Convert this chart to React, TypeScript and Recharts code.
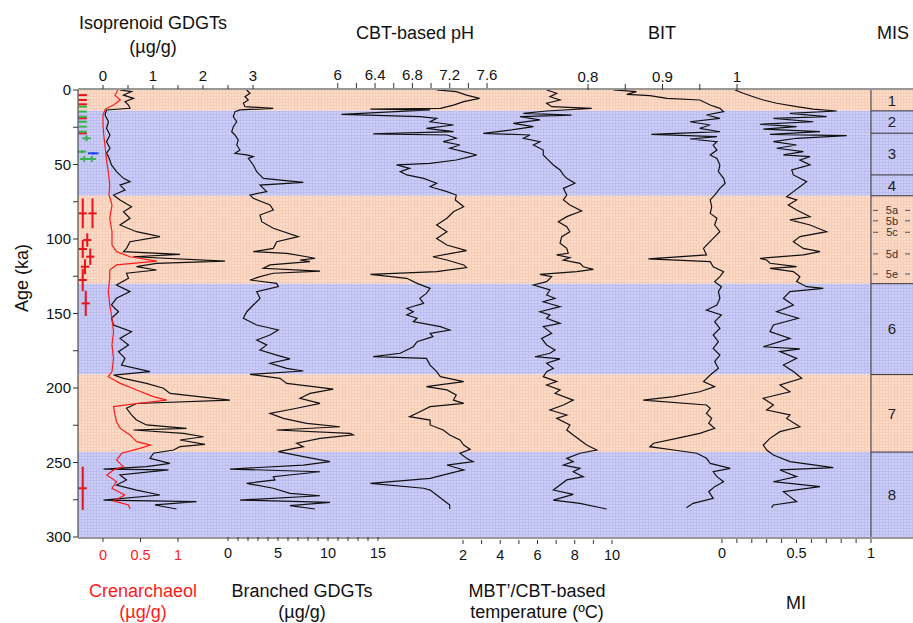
import React from 'react';
import { ComposedChart, Line, XAxis, YAxis, ReferenceArea, ReferenceLine } from 'recharts';

const FONT = '"Liberation Sans", Arial, Helvetica, sans-serif';

// ---------- Age axis ----------
const ageMajor = [0, 50, 100, 150, 200, 250, 300];
const ageMinor = [25, 75, 125, 175, 225, 275];

// ---------- MIS stages ----------
const misBounds = [0, 14, 29, 57, 71, 130, 191, 243, 300];
const misNames = ['1', '2', '3', '4', '', '6', '7', '8'];
const misWarm = [true, false, false, false, true, false, true, false];
const subStageNames = ['5a', '5b', '5c', '5d', '5e'];
const subStageAges = [80.8, 87.8, 95.5, 110, 123.5];

// ---------- Axis ticks ----------
const isoMajor = [0, 1, 2, 3];
const isoMinor = [0.5, 1.5, 2.5];
const phMajor = [6, 6.4, 6.8, 7.2, 7.6];
const phMinor = [6.2, 6.6, 7.0, 7.4];
const bitMajor = [0.8, 0.9, 1];
const bitMinor = [0.85, 0.95];
const crenMajor = [0, 0.5, 1];
const crenMinor: number[] = [];
const brMajor = [0, 5, 10, 15];
const brMinor = [1, 2, 3, 4, 6, 7, 8, 9, 11, 12, 13, 14];
const tMajor = [2, 4, 6, 8, 10];
const tMinor = [3, 5, 7, 9];
const miMajor = [0, 0.5, 1];
const miMinor = [0.1, 0.2, 0.3, 0.4, 0.6, 0.7, 0.8, 0.9];

// ---------- Series: [age (ka), value] ----------
const isoprenoidGDGTs: [number, number][] = [
  [0, 0.34], [1.1, 0.57], [3.4, 0.41], [5.6, 0.61], [7.8, 0.44], [10.1, 0.51], [12.3, 0.54], [13.4, 0.07],
  [16.8, 0.04], [21.3, 0.11], [25.7, 0.07], [30.2, 0.14], [34.7, 0.07], [39.1, 0.14], [42.5, 0.07], [44.7, 0.11],
  [50.3, 0.17], [54.8, 0.27], [59.3, 0.41], [61.5, 0.54], [63.8, 0.34], [67.1, 0.44], [70.5, 0.21], [73.8, 0.34],
  [78.3, 0.57], [81.7, 0.41], [86.1, 0.54], [90.6, 0.34], [95.1, 0.67], [98.4, 1.14], [101.8, 0.54], [106.3, 0.47],
  [108.5, 0.41], [110.3, 1.54], [111.9, 0.61], [114.8, 2.44], [116.3, 1.07], [118.6, 0.67], [120.8, 1.07], [123.0, 0.47],
  [126.4, 0.51], [130.9, 0.27], [135.3, 0.54], [139.8, 0.27], [144.3, 0.17], [148.8, 0.31], [153.2, 0.17], [157.7, 0.21],
  [162.2, 0.57], [166.7, 0.34], [171.1, 0.51], [175.6, 0.31], [180.1, 0.44], [184.6, 0.37], [189.0, 0.94], [191.3, 0.21],
  [193.5, 0.41], [196.9, 0.87], [200.2, 1.21], [203.6, 1.34], [208.1, 2.54], [210.4, 0.67], [213.6, 0.47], [218.1, 0.57],
  [221.5, 0.67], [224.8, 0.87], [227.1, 1.67], [228.2, 0.61], [230.4, 1.61], [232.7, 2.01], [234.9, 1.54], [237.8, 2.04],
  [239.4, 1.54], [241.6, 1.41], [243.8, 1.01], [247.2, 0.94], [250.6, 1.34], [252.8, 0.87], [254.4, 0.01], [255.0, 1.31],
  [258.4, 0.34], [261.7, 0.47], [265.1, 0.27], [268.5, 0.67], [271.8, 1.14], [275.2, 0.01], [276.3, 1.87], [278.5, 1.04],
  [281.2, 1.47],
];

const crenarchaeol: [number, number][] = [
  [0, 0.2], [3.4, 0.16], [6.7, 0.23], [10.1, 0.14], [12.8, 0.03], [16.8, 0.0], [23.5, 0.0], [30.2, 0.01],
  [39.1, 0.03], [48.1, 0.05], [54.8, 0.07], [63.8, 0.09], [70.5, 0.08], [77.2, 0.12], [86.1, 0.09], [95.1, 0.12],
  [104.0, 0.12], [108.5, 0.18], [111.9, 0.36], [114.8, 0.72], [117.4, 0.18], [120.8, 0.09], [126.4, 0.09], [135.3, 0.07],
  [144.3, 0.09], [153.2, 0.12], [162.2, 0.14], [171.1, 0.12], [180.1, 0.14], [189.0, 0.12], [192.4, 0.07], [196.9, 0.23],
  [201.3, 0.45], [205.8, 0.67], [208.1, 0.85], [210.4, 0.45], [212.5, 0.14], [218.1, 0.16], [222.6, 0.18], [227.1, 0.23],
  [231.5, 0.36], [236.0, 0.45], [238.3, 0.63], [240.5, 0.49], [243.8, 0.25], [248.3, 0.18], [252.8, 0.27], [255.0, 0.14],
  [258.4, 0.05], [262.8, 0.18], [267.3, 0.12], [271.8, 0.29], [275.8, 0.14], [278.5, 0.34], [281.2, 0.36],
];

const branchedGDGTs: [number, number][] = [
  [0, 1.87], [2.2, 2.2], [4.5, 1.7], [6.7, 2.03], [8.9, 1.53], [11.2, 1.7], [12.3, 4.53], [13.4, 1.2],
  [14.5, 0.7], [17.9, 0.53], [21.3, 0.87], [24.6, 0.53], [28.0, 0.37], [30.2, 0.7], [33.6, 1.03], [36.9, 0.87],
  [40.3, 1.2], [42.5, 0.7], [43.6, 1.87], [44.7, 2.53], [45.9, 2.03], [50.3, 2.53], [54.8, 2.87], [59.3, 3.53],
  [62.0, 7.53], [63.8, 3.2], [68.2, 3.87], [70.5, 2.2], [72.7, 2.53], [77.2, 4.2], [80.5, 4.53], [83.9, 3.2],
  [88.4, 3.37], [92.8, 4.53], [98.4, 7.03], [101.8, 4.87], [106.3, 4.53], [108.5, 2.53], [109.6, 5.87], [111.9, 7.87],
  [113.0, 8.7], [114.1, 7.2], [115.2, 8.2], [117.4, 4.2], [119.7, 3.53], [121.5, 9.2], [123.0, 4.53], [125.3, 3.2],
  [127.5, 2.2], [129.8, 4.87], [132.0, 5.03], [135.3, 2.87], [139.8, 3.2], [144.3, 2.53], [148.8, 1.87], [153.2, 1.53],
  [157.7, 2.87], [161.1, 5.03], [164.4, 4.2], [167.8, 2.87], [171.1, 3.87], [174.5, 3.2], [177.9, 4.87], [180.5, 6.2],
  [183.4, 4.2], [186.8, 5.87], [188.6, 7.53], [190.8, 2.2], [193.5, 5.2], [196.9, 5.87], [199.1, 8.53], [200.7, 10.53],
  [203.6, 8.2], [206.9, 7.2], [210.3, 9.2], [213.6, 6.87], [217.0, 4.2], [220.4, 5.53], [223.7, 7.87], [226.0, 11.2],
  [228.2, 4.87], [230.4, 12.2], [231.5, 12.53], [233.8, 9.2], [237.1, 6.87], [239.4, 7.53], [242.7, 5.03], [246.1, 7.53],
  [249.4, 10.2], [251.7, 7.53], [254.4, 0.2], [256.2, 9.2], [259.5, 4.53], [261.7, 4.7], [264.0, 1.87], [267.3, 4.53],
  [270.7, 6.2], [272.3, 9.2], [275.2, 1.2], [276.8, 10.2], [279.0, 6.2], [281.2, 8.7],
];

const cbtPH: [number, number][] = [
  [0, 7.06], [1.1, 7.27], [3.4, 7.38], [5.6, 7.52], [7.8, 7.35], [10.1, 7.24], [12.3, 7.1], [12.8, 6.35],
  [13.4, 6.99], [16.3, 6.04], [17.9, 6.88], [19.0, 7.06], [21.3, 6.99], [23.5, 7.24], [25.7, 6.95], [28.0, 7.24],
  [29.5, 6.38], [30.2, 7.17], [32.4, 7.27], [34.7, 7.13], [36.9, 7.31], [39.1, 7.2], [41.4, 7.35], [43.6, 7.49],
  [44.7, 7.42], [47.0, 7.27], [49.2, 6.99], [50.3, 6.63], [52.6, 6.77], [54.8, 6.67], [57.0, 6.74], [59.3, 6.92],
  [62.6, 7.06], [64.9, 6.99], [68.2, 7.17], [70.5, 7.27], [73.8, 7.26], [78.3, 7.35], [81.7, 7.24], [86.1, 7.17],
  [90.6, 7.06], [95.1, 7.17], [99.6, 7.06], [104.0, 7.17], [107.8, 7.38], [111.9, 7.02], [114.1, 7.17], [117.4, 7.35],
  [119.2, 7.38], [121.9, 7.06], [123.7, 6.35], [126.4, 6.74], [129.8, 6.85], [133.1, 6.99], [136.5, 6.95], [139.8, 6.88],
  [143.2, 6.92], [146.5, 6.74], [148.8, 6.81], [151.0, 6.74], [153.2, 6.85], [155.5, 6.81], [158.8, 7.1], [161.1, 7.2],
  [163.3, 6.99], [165.5, 7.02], [168.9, 6.85], [172.3, 6.81], [174.5, 6.74], [176.7, 6.67], [179.0, 6.38], [180.1, 6.95],
  [184.6, 6.99], [189.0, 7.06], [192.4, 7.1], [195.7, 7.35], [199.1, 6.95], [201.3, 7.17], [204.7, 7.27], [208.1, 7.24],
  [210.3, 7.35], [212.5, 6.99], [215.9, 6.88], [219.2, 6.77], [221.5, 6.99], [224.8, 6.99], [228.2, 7.13], [231.5, 7.2],
  [234.9, 7.31], [238.3, 7.35], [241.2, 7.42], [243.8, 7.31], [247.2, 7.38], [249.4, 7.45], [251.7, 7.17], [255.0, 7.35],
  [257.3, 7.2], [260.6, 6.99], [264.0, 6.35], [267.3, 6.92], [268.5, 6.99], [271.8, 7.06], [275.2, 7.13], [278.5, 7.2],
  [281.2, 7.2],
];

const mbtTemperature: [number, number][] = [
  [0, 6.49], [2.2, 7.03], [4.5, 6.67], [6.7, 7.21], [8.9, 6.49], [11.2, 6.76], [12.3, 8.91], [14.1, 6.49],
  [15.7, 5.24], [16.8, 7.83], [17.9, 5.06], [20.1, 6.13], [22.4, 4.7], [24.6, 5.78], [26.8, 4.61], [29.1, 3.09],
  [30.2, 5.6], [32.4, 5.24], [34.7, 6.13], [36.9, 5.78], [40.3, 6.31], [43.6, 6.31], [45.9, 6.49], [50.3, 6.85],
  [53.7, 7.21], [57.0, 7.39], [59.3, 7.57], [62.6, 8.01], [66.0, 7.39], [70.5, 7.57], [73.8, 7.39], [77.2, 7.74],
  [81.2, 8.37], [85.0, 7.57], [88.4, 7.12], [91.7, 7.57], [95.1, 7.74], [98.4, 7.3], [102.9, 7.21], [106.3, 7.57],
  [109.6, 7.65], [110.7, 7.03], [112.5, 7.74], [114.1, 7.39], [116.3, 8.28], [118.6, 8.46], [120.4, 9.0], [121.9, 8.1],
  [123.7, 6.13], [125.3, 6.76], [128.6, 6.49], [130.9, 5.78], [134.2, 6.67], [137.6, 6.49], [139.8, 6.94], [142.1, 6.31],
  [145.4, 7.21], [148.8, 6.13], [151.0, 6.67], [153.2, 6.49], [156.6, 7.21], [158.8, 6.31], [163.3, 6.76], [166.7, 6.22],
  [171.1, 6.49], [174.5, 6.94], [176.7, 6.67], [179.0, 5.87], [180.5, 7.21], [183.4, 6.49], [186.8, 6.85], [189.0, 6.49],
  [192.4, 6.31], [195.7, 7.03], [198.0, 6.49], [201.3, 7.21], [203.6, 6.94], [208.1, 7.92], [211.4, 7.39], [214.8, 6.67],
  [218.1, 7.57], [220.4, 7.03], [224.8, 7.74], [228.2, 7.57], [231.5, 7.92], [234.9, 8.28], [238.3, 8.64], [241.6, 9.18],
  [243.8, 8.28], [247.2, 7.57], [249.4, 7.92], [251.7, 7.39], [253.9, 8.28], [256.2, 7.92], [259.5, 8.46], [261.7, 7.57],
  [265.1, 7.21], [268.5, 6.85], [271.4, 7.92], [275.2, 6.85], [277.4, 8.28], [281.2, 9.71],
];

const bitIndex: [number, number][] = [
  [0, 0.834], [1.1, 0.865], [2.9, 0.852], [3.8, 0.883], [5.6, 0.906], [6.7, 0.95], [10.1, 0.964], [12.3, 0.977],
  [14.5, 0.982], [16.8, 0.959], [19.0, 0.977], [21.3, 0.937], [23.5, 0.964], [25.7, 0.95], [28.0, 0.977], [29.8, 0.885],
  [31.3, 0.973], [32.9, 0.937], [34.7, 0.973], [36.9, 0.968], [40.3, 0.973], [43.6, 0.964], [45.9, 0.973], [50.3, 0.977],
  [54.8, 0.975], [59.3, 0.982], [62.6, 0.984], [66.0, 0.977], [70.5, 0.97], [73.8, 0.964], [78.3, 0.966], [82.8, 0.964],
  [86.1, 0.973], [90.6, 0.97], [95.1, 0.977], [99.6, 0.968], [106.3, 0.955], [110.7, 0.959], [113.4, 0.881], [115.2, 0.964],
  [118.6, 0.968], [121.9, 0.982], [125.3, 0.977], [128.6, 0.97], [132.0, 0.979], [135.3, 0.975], [139.8, 0.977], [144.3, 0.973],
  [147.7, 0.959], [151.0, 0.979], [155.5, 0.97], [160.0, 0.977], [164.4, 0.968], [168.9, 0.975], [173.4, 0.968], [177.9, 0.977],
  [182.3, 0.97], [186.8, 0.975], [191.3, 0.964], [195.7, 0.955], [199.1, 0.97], [202.5, 0.95], [205.8, 0.915], [208.1, 0.874],
  [211.4, 0.959], [213.6, 0.964], [217.0, 0.959], [220.4, 0.966], [223.7, 0.962], [227.1, 0.97], [230.4, 0.95], [233.8, 0.919],
  [237.1, 0.888], [239.4, 0.883], [241.6, 0.915], [243.8, 0.946], [247.2, 0.959], [250.6, 0.964], [253.9, 0.991], [256.2, 0.968],
  [259.5, 0.973], [262.9, 0.982], [266.2, 0.97], [269.6, 0.962], [274.1, 0.968], [277.4, 0.941], [280.3, 0.932],
];

const miIndex: [number, number][] = [
  [0, 0.087], [2.2, 0.143], [4.5, 0.21], [6.7, 0.277], [8.9, 0.367], [11.2, 0.501], [12.8, 0.613], [14.1, 0.77],
  [15.7, 0.456], [17.9, 0.702], [19.0, 0.345], [21.3, 0.613], [23.0, 0.255], [24.6, 0.501], [26.2, 0.277], [28.0, 0.658],
  [29.8, 0.322], [30.6, 0.837], [32.4, 0.501], [34.7, 0.345], [36.9, 0.501], [39.1, 0.367], [41.4, 0.546], [43.6, 0.412],
  [44.7, 0.591], [47.0, 0.523], [50.3, 0.591], [53.7, 0.468], [57.0, 0.479], [61.5, 0.568], [64.9, 0.523], [68.2, 0.479],
  [71.6, 0.434], [73.8, 0.501], [77.2, 0.445], [80.5, 0.501], [85.0, 0.591], [87.2, 0.456], [90.6, 0.591], [95.1, 0.702],
  [98.4, 0.523], [101.8, 0.479], [106.3, 0.546], [108.5, 0.658], [110.7, 0.546], [113.0, 0.255], [114.1, 0.3], [116.3, 0.322],
  [118.6, 0.501], [119.7, 0.322], [121.9, 0.479], [125.3, 0.523], [128.6, 0.501], [132.0, 0.568], [133.1, 0.68], [135.3, 0.456],
  [139.8, 0.412], [144.3, 0.479], [148.8, 0.367], [153.2, 0.512], [157.7, 0.345], [162.2, 0.322], [166.7, 0.456], [172.3, 0.277],
  [173.8, 0.523], [175.6, 0.389], [180.1, 0.501], [184.6, 0.412], [189.0, 0.479], [193.5, 0.535], [198.0, 0.389], [202.5, 0.456],
  [206.9, 0.277], [211.4, 0.345], [214.8, 0.3], [218.1, 0.456], [220.4, 0.434], [226.0, 0.523], [229.3, 0.389], [233.8, 0.322],
  [238.3, 0.277], [241.6, 0.3], [245.0, 0.345], [249.4, 0.456], [253.5, 0.747], [255.0, 0.389], [259.5, 0.501], [262.9, 0.345],
  [266.2, 0.658], [269.6, 0.412], [272.9, 0.456], [276.3, 0.501], [278.5, 0.345], [280.3, 0.333],
];

// ---------- Dating control points (plotted on the crenarchaeol scale) ----------
const redDatingAge = [3.4, 6.7, 9.6, 19.0, 29.1, 82.8, 82.8, 100.7, 106.7, 111.9, 118.6, 127.5, 143.2, 267.3];
const redDatingPos = [-0.27, -0.27, -0.27, -0.27, -0.27, -0.27, -0.14, -0.21, -0.27, -0.17, -0.24, -0.27, -0.23, -0.27];
const redDatingErr = [0, 0, 0, 0, 0, 10, 10, 4.5, 6, 5.5, 5, 7.5, 8.5, 14.5];
const greenDatingAge = [11.2, 14.5, 17.9, 21.3, 24.6, 28.0, 32.4, 41.4, 46.3, 46.3];
const greenDatingPos = [-0.27, -0.27, -0.27, -0.27, -0.27, -0.27, -0.22, -0.28, -0.25, -0.15];
const greenDatingErr = [0, 0, 0, 0, 0, 0, 2, 1, 2, 2];
const blueDatingAge = [42.5];
const blueDatingPos = [-0.13];
const blueDatingErr = [0.8];
const datingHalfWidth = 0.055;

type Row = { age: number; v: number };
const toRows = (pts: [number, number][]): Row[] => pts.map(([age, v]) => ({ age, v }));
function crossSegments(ages: number[], pos: number[], errs: number[], hw: number): Row[][] {
  const segs: Row[][] = [];
  ages.forEach((a, i) => {
    if (errs[i] > 0) segs.push([{ age: a - errs[i], v: pos[i] }, { age: a + errs[i], v: pos[i] }]);
    segs.push([{ age: a, v: pos[i] - hw }, { age: a, v: pos[i] + hw }]);
  });
  return segs;
}
const datingSets = [
  { color: '#e8141c', segs: crossSegments(redDatingAge, redDatingPos, redDatingErr, datingHalfWidth) },
  { color: '#36b34a', segs: crossSegments(greenDatingAge, greenDatingPos, greenDatingErr, datingHalfWidth) },
  { color: '#2040ff', segs: crossSegments(blueDatingAge, blueDatingPos, blueDatingErr, 0.07) },
];

const AXIS = '#333333';

const fmt = (major: number[]) => (v: number) => (major.includes(v) ? String(v) : '');
const allTicks = (a: number[], b: number[]) => [...a, ...b].sort((x, y) => x - y);

const topTick = { fontSize: 15, fill: '#111', fontFamily: FONT };
const botTick = { fontSize: 14.5, fill: '#111', fontFamily: FONT };

const Title = ({ x, y, children, color = '#111', size = 18 }: any) => (
  <div
    style={{
      position: 'absolute', left: x, top: y, transform: 'translate(-50%, -50%)', whiteSpace: 'nowrap',
      fontFamily: FONT, fontSize: size, color, lineHeight: 1,
    }}
  >
    {children}
  </div>
);

export default function App() {
  const bands = misBounds.slice(0, -1).map((a, i) => ({ a, b: misBounds[i + 1], warm: misWarm[i], name: misNames[i] }));
  return (
    <div style={{ position: 'absolute', left: 0, top: 0, width: 913, height: 623, background: '#fff', overflow: 'hidden' }}>
      <ComposedChart width={913} height={623} layout="vertical" margin={{ top: 87, right: 0, bottom: 82, left: 77 }}>
        <defs>
          <pattern id="warmTex" width="3" height="3" patternUnits="userSpaceOnUse">
            <rect width="3" height="3" fill="#FCDCC9" />
            <rect width="1" height="3" fill="#F6CDB6" />
            <rect width="3" height="1" fill="#F6CDB6" />
          </pattern>
          <pattern id="coolTex" width="3" height="3" patternUnits="userSpaceOnUse">
            <rect width="3" height="3" fill="#CDCEF7" />
            <rect width="1" height="3" fill="#BDBEF0" />
            <rect width="3" height="1" fill="#BDBEF0" />
          </pattern>
        </defs>
        <YAxis
          yAxisId="age" type="number" dataKey="age" domain={[0, 300]} allowDataOverflow
          ticks={allTicks(ageMajor, ageMinor)} tickFormatter={fmt(ageMajor)} interval={0}
          width={1} tickSize={5} tickMargin={2} stroke={AXIS} tick={{ fontSize: 15, fill: '#111', fontFamily: FONT }}
        />
        <XAxis xAxisId="iso" type="number" orientation="top" height={1} domain={[-0.5, 16.2]} allowDataOverflow
          ticks={allTicks(isoMajor, isoMinor)} tickFormatter={fmt(isoMajor)} interval={0}
          tickSize={4} tickMargin={4} stroke={AXIS} tick={topTick} />
        <XAxis xAxisId="ph" type="number" orientation="top" height={1} domain={[3.217, 12.164]} allowDataOverflow
          ticks={allTicks(phMajor, phMinor)} tickFormatter={fmt(phMajor)} interval={0} axisLine={false}
          tickSize={5} tickMargin={3} stroke={AXIS} tick={topTick} />
        <XAxis xAxisId="bit" type="number" orientation="top" height={1} domain={[0.1154, 1.2362]} allowDataOverflow
          ticks={allTicks(bitMajor, bitMinor)} tickFormatter={fmt(bitMajor)} interval={0} axisLine={false}
          tickSize={6} tickMargin={2} stroke={AXIS} tick={topTick} />
        <XAxis xAxisId="cren" type="number" orientation="bottom" height={1} domain={[-0.3333, 10.8]} allowDataOverflow
          ticks={allTicks(crenMajor, crenMinor)} tickFormatter={fmt(crenMajor)} interval={0}
          tickSize={4} tickMargin={8} stroke={AXIS} tick={{ ...botTick, fill: '#ff1a1a' }} />
        <XAxis xAxisId="br" type="number" orientation="bottom" height={1} domain={[-15, 68.5]} allowDataOverflow
          ticks={allTicks(brMajor, brMinor)} tickFormatter={fmt(brMajor)} interval={0} axisLine={false}
          tickSize={4} tickMargin={7} stroke={AXIS} tick={botTick} />
        <XAxis xAxisId="temp" type="number" orientation="bottom" height={1} domain={[-18.671, 26.161]} allowDataOverflow
          ticks={allTicks(tMajor, tMinor)} tickFormatter={fmt(tMajor)} interval={0} axisLine={false}
          tickSize={4} tickMargin={6} stroke={AXIS} tick={botTick} />
        <XAxis xAxisId="mi" type="number" orientation="bottom" height={1} domain={[-4.3221, 1.2819]} allowDataOverflow
          ticks={allTicks(miMajor, miMinor)} tickFormatter={fmt(miMajor)} interval={0} axisLine={false}
          tickSize={4} tickMargin={5} stroke={AXIS} tick={botTick} />

        {bands.map((bd, i) => (
          <ReferenceArea key={'band' + i} xAxisId="mi" yAxisId="age" y1={bd.a} y2={bd.b}
            fill={bd.warm ? 'url(#warmTex)' : 'url(#coolTex)'} fillOpacity={1} stroke="none" ifOverflow="visible" />
        ))}

        {/* MIS column */}
        <ReferenceLine xAxisId="mi" yAxisId="age" x={1} stroke={AXIS} strokeWidth={1} ifOverflow="visible" />
        {misBounds.slice(1, -1).map((a, i) => (
          <ReferenceLine key={'mb' + i} xAxisId="mi" yAxisId="age" ifOverflow="visible"
            segment={[{ x: 1, y: a }, { x: 1.2819, y: a }]} stroke={AXIS} strokeWidth={1} />
        ))}
        {bands.map((bd, i) => bd.name ? (
          <ReferenceArea key={'mn' + i} xAxisId="mi" yAxisId="age" x1={1} x2={1.2819} y1={bd.a} y2={bd.b}
            fill="none" fillOpacity={0} stroke="none" ifOverflow="visible"
            label={{ value: bd.name, position: 'center', fontSize: 15, fill: '#222', fontFamily: FONT }} />
        ) : null)}
        {subStageAges.map((a, i) => (
          <ReferenceLine key={'ss' + i} xAxisId="mi" yAxisId="age" ifOverflow="visible"
            segment={[{ x: 1, y: a }, { x: 1.2819, y: a }]} stroke="#555" strokeWidth={1}
            strokeDasharray="0 2 5 27 5 10"
            label={{ value: subStageNames[i], position: 'center', fontSize: 11, fill: '#333', fontFamily: FONT }} />
        ))}

        {/* dating points */}
        {datingSets.map((set, si) => set.segs.map((seg, k) => (
          <Line key={'d' + si + '-' + k} data={seg} dataKey="v" xAxisId="cren" yAxisId="age"
            stroke={set.color} strokeWidth={2} dot={false} activeDot={false} isAnimationActive={false} />
        )))}

        {/* data series */}
        <Line data={toRows(isoprenoidGDGTs)} dataKey="v" xAxisId="iso" yAxisId="age" stroke="#111" strokeWidth={1.2}
          dot={false} activeDot={false} isAnimationActive={false} />
        <Line data={toRows(crenarchaeol)} dataKey="v" xAxisId="cren" yAxisId="age" stroke="#ff1a1a" strokeWidth={1.2}
          dot={false} activeDot={false} isAnimationActive={false} />
        <Line data={toRows(branchedGDGTs)} dataKey="v" xAxisId="br" yAxisId="age" stroke="#111" strokeWidth={1.2}
          dot={false} activeDot={false} isAnimationActive={false} />
        <Line data={toRows(cbtPH)} dataKey="v" xAxisId="ph" yAxisId="age" stroke="#111" strokeWidth={1.2}
          dot={false} activeDot={false} isAnimationActive={false} />
        <Line data={toRows(mbtTemperature)} dataKey="v" xAxisId="temp" yAxisId="age" stroke="#111" strokeWidth={1.2}
          dot={false} activeDot={false} isAnimationActive={false} />
        <Line data={toRows(bitIndex)} dataKey="v" xAxisId="bit" yAxisId="age" stroke="#111" strokeWidth={1.2}
          dot={false} activeDot={false} isAnimationActive={false} />
        <Line data={toRows(miIndex)} dataKey="v" xAxisId="mi" yAxisId="age" stroke="#111" strokeWidth={1.2}
          dot={false} activeDot={false} isAnimationActive={false} />
      </ComposedChart>

      <Title x={153} y={23}>Isoprenoid GDGTs</Title>
      <Title x={153} y={47}>(µg/g)</Title>
      <Title x={415} y={33}>CBT-based pH</Title>
      <Title x={662} y={33}>BIT</Title>
      <Title x={893} y={33}>MIS</Title>
      <Title x={143} y={591} color="#ff1a1a">Crenarchaeol</Title>
      <Title x={143} y={612} color="#ff1a1a">(µg/g)</Title>
      <Title x={302} y={591}>Branched GDGTs</Title>
      <Title x={302} y={612}>(µg/g)</Title>
      <Title x={537} y={591}>MBT’/CBT-based</Title>
      <Title x={537} y={612}>temperature (ºC)</Title>
      <Title x={796} y={603}>MI</Title>
      <div
        style={{
          position: 'absolute', left: 22, top: 278, transform: 'translate(-50%, -50%) rotate(-90deg)',
          whiteSpace: 'nowrap', fontFamily: FONT, fontSize: 18, color: '#111', lineHeight: 1,
        }}
      >
        Age (ka)
      </div>
    </div>
  );
}
